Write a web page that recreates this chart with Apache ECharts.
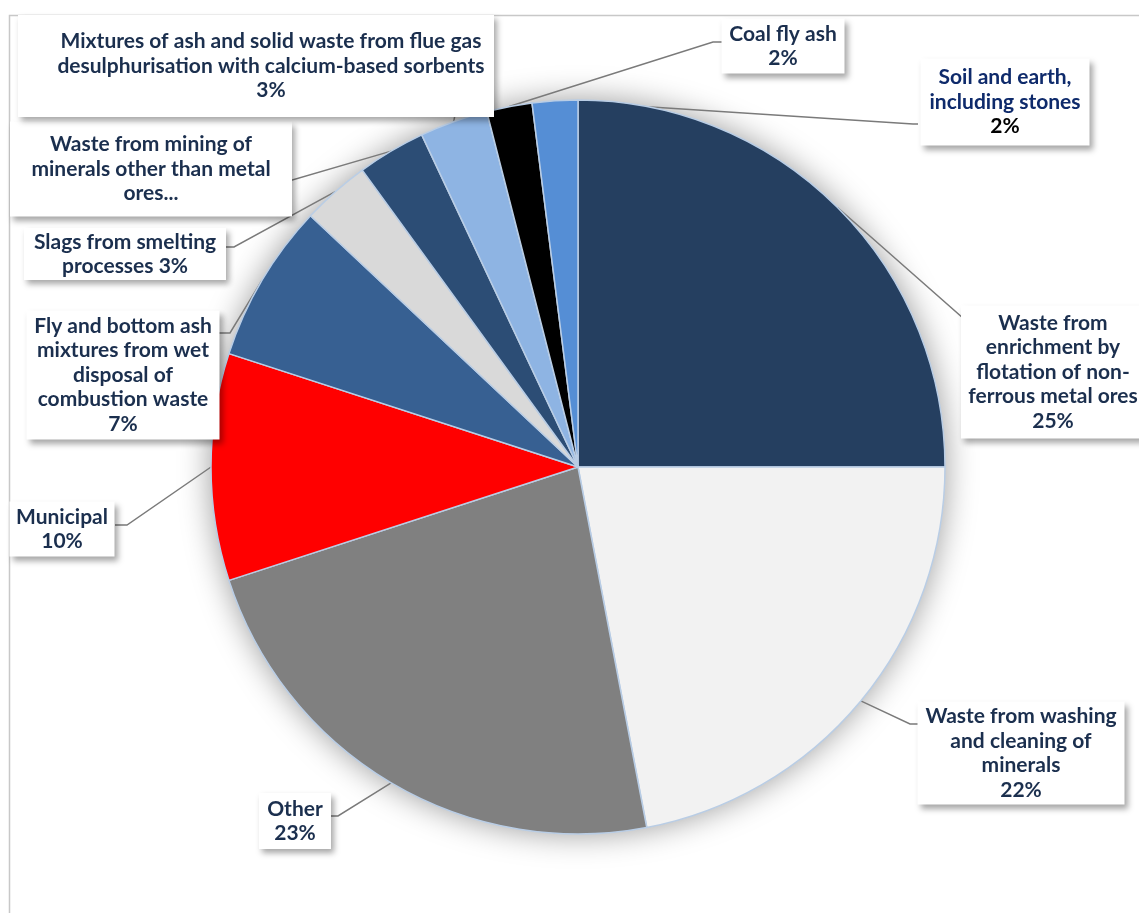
<!DOCTYPE html>
<html>
<head>
<meta charset="utf-8">
<script src="https://cdn.jsdelivr.net/npm/echarts@6/dist/echarts.min.js"></script>
<style>
  html, body { margin: 0; padding: 0; background: #fff; }
  #main { width: 1139px; height: 913px; }
</style>
</head>
<body>
<div id="main"></div>
<script>
// categories, clockwise from 12 o'clock
var categories = [
  'Waste from\nenrichment by\nflotation of non-\nferrous metal ores',
  'Waste from washing\nand cleaning of\nminerals',
  'Other',
  'Municipal',
  'Fly and bottom ash\nmixtures from wet\ndisposal of\ncombustion waste',
  'Slags from smelting\nprocesses',
  'Waste from mining of\nminerals other than metal\nores...',
  'Mixtures of ash and solid waste from flue gas\ndesulphurisation with calcium-based sorbents',
  'Coal fly ash',
  'Soil and earth,\nincluding stones'
]
var shares = [25, 22, 23, 10, 7, 3, 3, 3, 2, 2]
var colors = ['#253f60', '#f2f2f2', '#808080', '#ff0000', '#376092',
  '#d9d9d9', '#2c4d75', '#8eb4e3', '#000000', '#558ed5']

// label boxes: text centre x/y, width, height, extra left padding, leader line elbow and end
var boxes = [
  { cx: 1053, cy: 372, w: 184, h: 133, padL: 0, elbow: [980, 333], end: [992, 333] },
  { cx: 1021, cy: 753, w: 207, h: 103, padL: 0, elbow: [910, 724], end: [922, 724] },
  { cx: 295, cy: 821, w: 72, h: 56, padL: 0, elbow: [338, 816], end: [327, 816] },
  { cx: 62, cy: 529, w: 105, h: 55, padL: 0, elbow: [127, 525], end: [115, 525] },
  { cx: 123, cy: 375, w: 193, h: 129, padL: 0, elbow: [230, 333], end: [217, 333] },
  { cx: 125, cy: 254, w: 202, h: 52, padL: 0, elbow: [234, 247], end: [221, 247] },
  { cx: 151, cy: 169, w: 282, h: 95, padL: 0, elbow: [282, 183], end: [277, 183] },
  { cx: 271, cy: 66, w: 446, h: 102, padL: 30, elbow: [458, 100], end: [460, 83] },
  { cx: 783, cy: 46, w: 123, h: 55, padL: 0, elbow: [713, 42], end: [722, 42] },
  { cx: 1005, cy: 102, w: 169, h: 87, padL: 0, elbow: [913, 124], end: [918, 124] }
]
var inlinePct = { 5: true }
var noPct = { 6: true }
var LH = 24.5
var FS = 21
var textColor = '#1b2f4e'

var myChart = echarts.init(document.getElementById('main'))

var data = categories.map(function (name, i) {
  var nLines = name.split('\n').length + (inlinePct[i] || noPct[i] ? 0 : 1)
  var padV = Math.max(0, (boxes[i].h - nLines * LH) / 2)
  return {
    name: name,
    value: shares[i],
    itemStyle: { color: colors[i] },
    label: { width: boxes[i].w, padding: [padV, 0, padV, boxes[i].padL] }
  }
})

var option = {
  animation: false,
  graphic: [{
    type: 'rect',
    left: 7, top: 13,
    shape: { width: 1200, height: 1000 },
    style: { fill: 'none', stroke: '#c8c8c8', lineWidth: 1.5 },
    silent: true
  }],
  series: [
    {
      // soft shadow behind the pie
      type: 'pie',
      center: [578, 467],
      radius: 367,
      silent: true,
      z: 1,
      label: { show: false },
      labelLine: { show: false },
      data: [{ value: 1, itemStyle: { color: '#ffffff', shadowBlur: 32, shadowColor: 'rgba(0,0,0,0.4)' } }]
    },
    {
      type: 'pie',
      center: [578, 467],
      radius: 367,
      startAngle: 90,
      clockwise: true,
      z: 2,
      avoidLabelOverlap: false,
      itemStyle: { borderColor: '#b9cde5', borderWidth: 1.5 },
      label: {
        show: true,
        position: 'outside',
        backgroundColor: '#ffffff',
        shadowBlur: 6,
        shadowOffsetX: 3,
        shadowOffsetY: 4,
        shadowColor: 'rgba(0,0,0,0.35)',
        align: 'center',
        formatter: function (p) {
          var pct = Math.round(p.percent) + '%'
          if (p.dataIndex === 9) return '{s|' + p.name + '}\n{k|' + pct + '}'
          if (noPct[p.dataIndex]) return '{t|' + p.name + '}'
          if (inlinePct[p.dataIndex]) return '{t|' + p.name + ' ' + pct + '}'
          return '{t|' + p.name + '}\n{t|' + pct + '}'
        },
        rich: {
          t: { fontFamily: 'Lato', fontWeight: 'bold', fontSize: FS, lineHeight: LH, color: textColor },
          s: { fontFamily: 'Lato', fontWeight: 'bold', fontSize: FS, lineHeight: LH, color: '#0e2a6b' },
          k: { fontFamily: 'Lato', fontWeight: 'bold', fontSize: FS, lineHeight: LH, color: '#000000' }
        }
      },
      labelLine: {
        show: true,
        lineStyle: { color: '#7a7a7a', width: 1.5 }
      },
      labelLayout: function (params) {
        var b = boxes[params.dataIndex]
        var start = params.labelLinePoints ? params.labelLinePoints[0] : b.elbow
        return {
          x: b.cx - b.padL / 2,
          y: b.cy,
          align: 'center',
          verticalAlign: 'middle',
          labelLinePoints: [start, b.elbow, b.end]
        }
      },
      data: data
    }
  ]
}
myChart.setOption(option)
</script>
</body>
</html>
